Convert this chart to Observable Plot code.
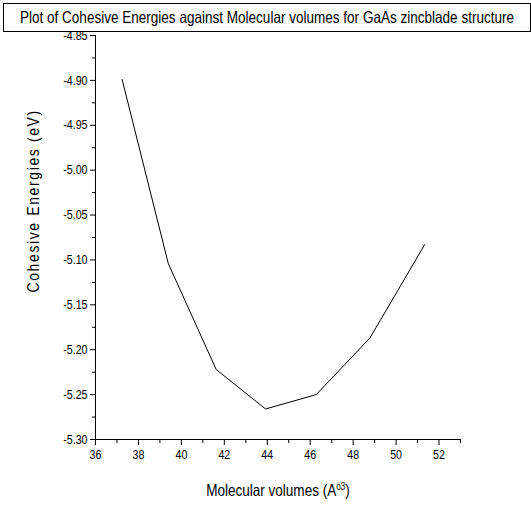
<!DOCTYPE html>
<html>
<head>
<meta charset="utf-8">
<script src="https://cdn.jsdelivr.net/npm/d3@7"></script>
<script src="https://cdn.jsdelivr.net/npm/@observablehq/plot@0.6"></script>
<style>
  html, body { margin: 0; padding: 0; background: #fff; }
  #wrap { position: relative; width: 531px; height: 508px; font-family: "Liberation Sans", Arial, sans-serif; overflow: hidden; }
  #title { position: absolute; left: 3px; top: 3px; width: 526px; height: 27px; border: 1px solid #000; font-size: 16.5px; line-height: 27px; color: #000; background: #fff; }
  #title span, #xlabel span { position: absolute; left: 50%; top: 0; transform: translateX(-50%) scaleX(0.82); white-space: nowrap; }
  #xlabel { position: absolute; left: 95px; width: 365px; top: 481px; height: 24px; font-size: 16.5px; color: #000; }
  #xlabel sup { font-size: 10px; vertical-align: 6px; line-height: 0; }
  svg text { font-family: "Liberation Sans", Arial, sans-serif; }
</style>
</head>
<body>
<div id="wrap">
  <div id="chart"></div>
  <div id="title"><span>Plot of Cohesive Energies against Molecular volumes for GaAs zincblade structure</span></div>
  <div id="xlabel"><span>Molecular volumes (A<sup>o3</sup>)</span></div>
</div>
<script>
// Data
const volumes = [37.24, 39.39, 41.62, 43.92, 46.28, 48.78, 51.33];
const energies = [-4.899, -5.104, -5.222, -5.266, -5.250, -5.187, -5.083];

const xMajorTicks = [36, 38, 40, 42, 44, 46, 48, 50, 52];
const xMinorTicks = [37, 39, 41, 43, 45, 47, 49, 51, 53];
const yMajorTicks = [-4.85, -4.90, -4.95, -5.00, -5.05, -5.10, -5.15, -5.20, -5.25, -5.30];
const yMinorTicks = [-4.875, -4.925, -4.975, -5.025, -5.075, -5.125, -5.175, -5.225, -5.275];
const xDomain = [36, 53];
const yDomain = [-5.30, -4.85];
const yLabel = "Cohesive Energies (eV)";

const data = volumes.map((v, i) => ({x: v, y: energies[i]}));

const chart = Plot.plot({
  width: 531,
  height: 508,
  marginLeft: 95,
  marginRight: 71,
  marginTop: 35,
  marginBottom: 69,
  style: {fontSize: "13px", color: "#000", background: "transparent"},
  x: {domain: xDomain},
  y: {domain: yDomain},
  marks: [
    Plot.axisX({ticks: xMajorTicks, tickSize: 6, tickPadding: 4, tickFormat: d => String(d), label: null, fontSize: 13}),
    Plot.axisX({ticks: xMinorTicks, tickSize: 4, text: null, label: null}),
    Plot.axisY({ticks: yMajorTicks, tickSize: 5, tickPadding: 3, tickFormat: d => d.toFixed(2), label: null, fontSize: 13}),
    Plot.axisY({ticks: yMinorTicks, tickSize: 3, text: null, label: null}),
    Plot.ruleX([xDomain[0]], {stroke: "#000", strokeWidth: 1}),
    Plot.ruleY([yDomain[0]], {stroke: "#000", strokeWidth: 1}),
    Plot.line(data, {x: "x", y: "y", stroke: "#000", strokeWidth: 1}),
    Plot.text([yLabel], {frameAnchor: "left", rotate: -90, textAnchor: "start", dx: -62, dy: 55, fontSize: 17, fill: "#000"})
  ]
});
document.getElementById("chart").appendChild(chart);

// Condense SVG text horizontally (narrow face is not installed)
d3.select(chart).selectAll("text").each(function() {
  if (this.textContent === yLabel) this.setAttribute("letter-spacing", "2px");
  const w = this.getComputedTextLength();
  if (w > 0) {
    this.setAttribute("textLength", (w * 0.82).toFixed(2));
    this.setAttribute("lengthAdjust", "spacingAndGlyphs");
  }
});
</script>
</body>
</html>
